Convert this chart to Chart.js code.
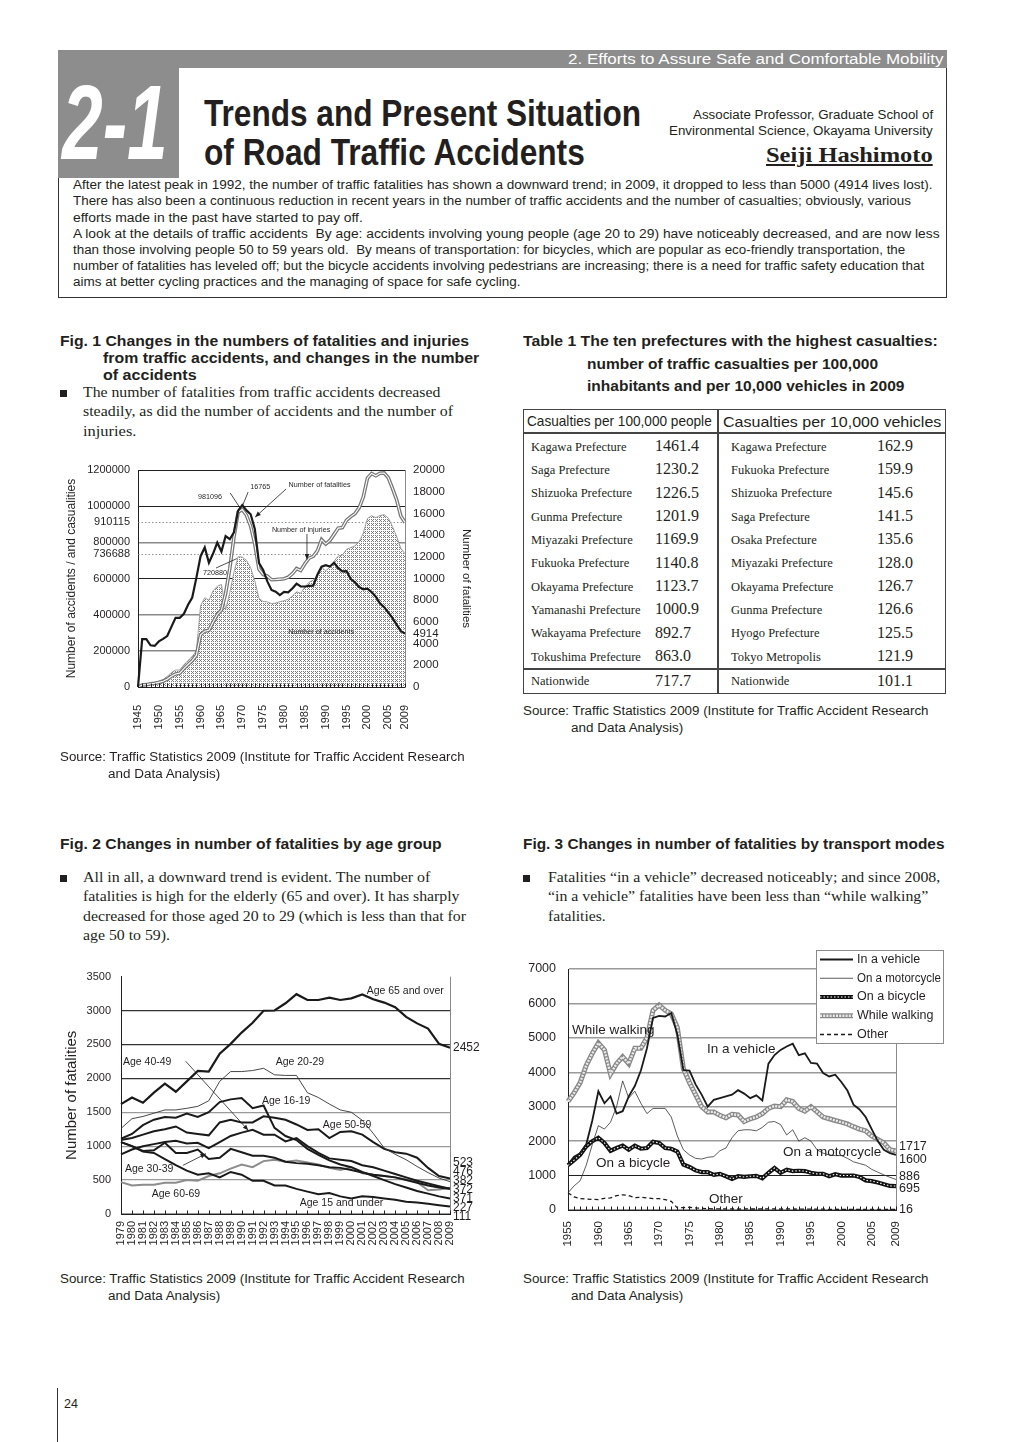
<!DOCTYPE html>
<html lang="en">
<head>
<meta charset="utf-8">
<title>Trends and Present Situation of Road Traffic Accidents</title>
<script src="https://cdn.jsdelivr.net/npm/chart.js@4.4.1/dist/chart.umd.min.js"></script>
<style>
  body { margin: 0; width: 1020px; height: 1442px; position: relative; background: #fff; color: #231f20;
         font-family: "Liberation Sans", Arial, sans-serif; overflow: hidden; }
  .t { position: absolute; white-space: pre; line-height: 1; transform-origin: 0 50%; }
  .caixa { position: absolute; box-sizing: border-box; }
  canvas { position: absolute; }
</style>
</head>
<body>

<div class="caixa" style="left:58px;top:50px;width:889px;height:248px;border:1px solid #333;"></div>
<div class="caixa" style="left:58px;top:50px;width:889px;height:18px;background:#8d8d8d;"></div>
<div class="caixa" style="left:58px;top:50px;width:121px;height:128px;background:#8d8d8d;"></div>

<div class="caixa" style="left:523px;top:409px;width:423px;height:285px;border:1.5px solid #444;"></div>
<div class="caixa" style="left:523px;top:432px;width:423px;height:2px;background:#444;"></div>
<div class="caixa" style="left:523px;top:668px;width:423px;height:2px;background:#444;"></div>
<div class="caixa" style="left:717px;top:409px;width:2px;height:285px;background:#444;"></div>

<div class="caixa" style="left:57px;top:1388px;width:1px;height:54px;background:#333;"></div>

<canvas id="graficoFig1" width="430" height="310" style="left:55px;top:455px;width:430px;height:310px"></canvas>
<canvas id="graficoFig2" width="425" height="300" style="left:60px;top:960px;width:425px;height:300px"></canvas>
<canvas id="graficoFig3" width="435" height="315" style="left:515px;top:945px;width:435px;height:315px"></canvas>

<script>
// ---------- Fig. 1 ----------
const anosFig1 = [
  '1945','1946','1947','1948','1949','1950','1951','1952','1953','1954',
  '1955','1956','1957','1958','1959','1960','1961','1962','1963','1964',
  '1965','1966','1967','1968','1969','1970','1971','1972','1973','1974',
  '1975','1976','1977','1978','1979','1980','1981','1982','1983','1984',
  '1985','1986','1987','1988','1989','1990','1991','1992','1993','1994',
  '1995','1996','1997','1998','1999','2000','2001','2002','2003','2004',
  '2005','2006','2007','2008','2009'
];
const rotulosFig1 = ['1945','1950','1955','1960','1965','1970','1975','1980','1985','1990','1995','2000','2005','2009'];
const mortosFig1 = [
  0, 4409, 4408, 3848, 3790, 4202, 4429, 4696, 5544, 6374,
  6379, 6751, 7575, 8248, 10079, 12055, 12865, 11445, 12301, 13318,
  12484, 13904, 13618, 14256, 16257, 16765, 16278, 15918, 14574, 11432,
  10792, 9734, 8945, 8783, 8466, 8760, 8719, 9073, 9520, 9262,
  9261, 9317, 9347, 10344, 11086, 11227, 11109, 11452, 10942, 10649,
  10679, 9942, 9640, 9211, 9006, 9066, 8747, 8326, 7702, 7358,
  6871, 6352, 5744, 5155, 4914
];
const feridosFig1 = [
  0, 11110, 13000, 17609, 20242, 25450, 31274, 43321, 59280, 72390,
  76501, 102072, 124530, 145432, 175951, 289156, 308697, 313813, 359089, 401117,
  425666, 517775, 655377, 828071, 967000, 981096, 949689, 889198, 789948, 651420,
  622467, 613957, 593211, 594116, 596282, 598719, 607346, 626192, 654822, 644321,
  681346, 712330, 722179, 752845, 814832, 790295, 810245, 844003, 878633, 881723,
  922677, 942203, 958925, 990676, 1050397, 1155697, 1181039, 1168029, 1181681, 1183617,
  1157113, 1098199, 1034652, 945504, 910115
];
const acidentesFig1 = [
  0, 12504, 16000, 21341, 25113, 33212, 41423, 58487, 80019, 93869,
  93981, 122691, 146833, 168799, 201292, 449917, 493693, 479825, 531966, 557183,
  567286, 425944, 521481, 635056, 720880, 718080, 700290, 659283, 586713, 490452,
  472938, 471041, 460649, 464037, 471573, 476677, 485578, 502261, 526362, 518642,
  552788, 579190, 590723, 614481, 661363, 643097, 662388, 695345, 724675, 729461,
  761794, 771085, 780401, 803882, 850363, 931950, 947253, 936950, 948281, 952709,
  934346, 887267, 832704, 766394, 736688
];
const ticksEsqFig1 = [0, 200000, 400000, 600000, 800000, 1000000, 1200000];
const extrasEsqFig1 = [736688, 910115];
const ticksDirFig1 = [0, 2000, 4000, 6000, 8000, 10000, 12000, 14000, 16000, 18000, 20000];
const extrasDirFig1 = [4914];
// [texto, indice do ano, valor no eixo da esquerda]
const notasTextoFig1 = [
  ['981096', 14.4, 1050000],
  ['16765', 26.9, 1106000],
  ['Number of fatalities', 36.1, 1117000],
  ['Number of injuries', 32.1, 868000],
  ['720880', 15.6, 630000],
  ['Number of accidents', 36, 304000]
];
// [x1, v1, x2, v2, ponta]
const notasSetaFig1 = [
  [22.1, 1073000, 24.6, 985000, false],
  [26.4, 1078000, 25.0, 1000000, false],
  [35.5, 1095000, 28.1, 940000, true],
  [40.5, 846000, 40.5, 705000, true],
  [18.7, 658000, 23.7, 710000, false]
];

// ---------- Fig. 2 ----------
const anosFig2 = [
  '1979','1980','1981','1982','1983','1984','1985','1986','1987','1988',
  '1989','1990','1991','1992','1993','1994','1995','1996','1997','1998',
  '1999','2000','2001','2002','2003','2004','2005','2006','2007','2008','2009'
];
const idade65 = [1620, 1717, 1640, 1790, 1923, 1803, 1956, 2110, 2100, 2364, 2508, 2675, 2820, 2997, 3000, 3107, 3241, 3155, 3155, 3189, 3155, 3180, 3237, 3165, 3117, 3050, 2906, 2810, 2733, 2508, 2452];
const idade2029 = [1261, 1405, 1438, 1486, 1534, 1534, 1558, 1587, 1669, 1956, 2100, 2100, 2115, 2148, 2052, 2043, 2043, 1788, 1717, 1621, 1534, 1500, 1381, 1189, 973, 880, 800, 700, 610, 530, 476];
const idade1619 = [1110, 1180, 1310, 1390, 1430, 1420, 1480, 1430, 1500, 1650, 1690, 1710, 1560, 1600, 1270, 1150, 1090, 960, 870, 790, 730, 690, 620, 560, 500, 440, 390, 340, 300, 260, 227];
const idade5059 = [1090, 1120, 1170, 1220, 1250, 1290, 1200, 1180, 1160, 1350, 1390, 1350, 1350, 1440, 1420, 1390, 1320, 1240, 1250, 1120, 1210, 1220, 1170, 1060, 960, 910, 890, 830, 680, 560, 523];
const idade4049 = [880, 950, 1000, 1030, 1060, 1080, 1040, 1050, 970, 1060, 1150, 1200, 1240, 1170, 1170, 1070, 1120, 1000, 900, 820, 800, 780, 720, 690, 640, 590, 540, 490, 450, 410, 372];
const idade3039 = [1060, 1000, 930, 940, 1050, 900, 900, 950, 810, 830, 960, 910, 860, 860, 830, 770, 750, 740, 720, 690, 680, 650, 610, 580, 560, 540, 500, 460, 420, 390, 371];
const idade15 = [1060, 1000, 920, 900, 810, 720, 640, 580, 600, 540, 620, 580, 490, 490, 420, 420, 370, 330, 290, 310, 260, 230, 260, 250, 230, 210, 180, 170, 150, 130, 111];
const idade6069 = [470, 420, 430, 430, 460, 460, 500, 490, 560, 600, 670, 730, 690, 780, 800, 770, 790, 760, 730, 680, 650, 690, 600, 580, 560, 540, 510, 470, 350, 360, 382];
const notasTextoFig2 = [
  ['Age 65 and over', 22.4, 3285],
  ['Age 40-49', 0.18, 2238],
  ['Age 20-29', 14.1, 2238],
  ['Age 16-19', 12.85, 1664],
  ['Age 50-59', 18.4, 1310],
  ['Age 30-39', 0.36, 660],
  ['Age 60-69', 2.8, 287],
  ['Age 15 and under', 16.3, 158]
];
const notasSetaFig2 = [
  [5.9, 2252, 11.6, 1234, true],
  [5.65, 717, 7.75, 889, true]
];

// ---------- Fig. 3 ----------
const anosFig3 = [
  '1955','1956','1957','1958','1959','1960','1961','1962','1963','1964',
  '1965','1966','1967','1968','1969','1970','1971','1972','1973','1974',
  '1975','1976','1977','1978','1979','1980','1981','1982','1983','1984',
  '1985','1986','1987','1988','1989','1990','1991','1992','1993','1994',
  '1995','1996','1997','1998','1999','2000','2001','2002','2003','2004',
  '2005','2006','2007','2008','2009'
];
const rotulosFig3 = ['1955','1960','1965','1970','1975','1980','1985','1990','1995','2000','2005','2009'];
const veiculo = [
  1330, 1550, 1650, 1900, 2600, 3450, 3100, 3300, 2800, 2870,
  3300, 3600, 4050, 4700, 5580, 5640, 5620, 5720, 5100, 4060,
  4050, 3650, 3350, 3000, 3200, 3250, 3300, 3350, 3480, 3380,
  3250, 3330, 3180, 4250, 4500, 4650, 4750, 4830, 4500, 4550,
  4270, 4250, 3980, 3880, 3930, 3720, 3470, 3060, 2920, 2700,
  2350, 2000, 1750, 1650, 1600
];
const moto = [
  500, 700, 850, 1300, 1900, 2450, 2350, 2550, 3000, 3750,
  3250, 3450, 3100, 2800, 2950, 2950, 2950, 2700, 2150, 1750,
  1600, 1500, 1480, 1530, 1550, 1720, 1800, 2100, 2300, 2330,
  2330, 2300, 2400, 2550, 2570, 2480, 2180, 2330, 2000, 2100,
  2000, 1750, 1650, 1600, 1580, 1580, 1500, 1400, 1350, 1300,
  1180, 1100, 1020, 950, 886
];
const bici = [
  1300, 1450, 1600, 1850, 2000, 2100, 1950, 1720, 1800, 1870,
  1750, 1870, 1780, 1800, 1980, 1950, 1800, 1780, 1700, 1320,
  1250, 1150, 1100, 1100, 1020, 1050, 980, 900, 980, 960,
  980, 990, 920, 1080, 1220, 1080, 1170, 1130, 1140, 1130,
  1080, 1050, 1050, 980, 1040, 1000, 1000, 1000, 960, 860,
  840, 800, 750, 700, 695
];
const caminhando = [
  3150, 3400, 3700, 4200, 4550, 4850, 4650, 3950, 4250, 4450,
  4250, 4700, 4700, 5000, 5800, 5950, 5800, 5700, 5300, 4100,
  3700, 3350, 3000, 2850, 2850, 2750, 2680, 2780, 2760, 2570,
  2650, 2700, 2800, 2950, 3020, 3000, 3200, 3150, 2950, 2870,
  3000, 2850, 2700, 2650, 2600, 2550, 2500, 2420, 2350, 2300,
  2150, 2050, 1950, 1750, 1717
];
const outros = [
  500, 380, 330, 320, 310, 300, 340, 350, 420, 440,
  420, 360, 370, 350, 330, 330, 300, 250, 60, 70,
  80, 60, 50, 40, 35, 30, 32, 30, 28, 30,
  30, 28, 30, 32, 30, 28, 30, 30, 25, 25,
  25, 24, 25, 20, 22, 20, 20, 21, 20, 19,
  20, 19, 18, 17, 16
];
const notasTextoFig3 = [
  ['While walking', 0.66, 5230],
  ['In a vehicle', 22.9, 4677],
  ['On a bicycle', 4.6, 1365],
  ['On a motorcycle', 35.4, 1685],
  ['Other', 23.2, 320]
];

// ---------- Table 1 ----------
const prefPorHabitantes = ['Kagawa Prefecture', 'Saga Prefecture', 'Shizuoka Prefecture', 'Gunma Prefecture', 'Miyazaki Prefecture',
  'Fukuoka Prefecture', 'Okayama Prefecture', 'Yamanashi Prefecture', 'Wakayama Prefecture', 'Tokushima Prefecture'];
const valPorHabitantes = ['1461.4', '1230.2', '1226.5', '1201.9', '1169.9', '1140.8', '1123.7', '1000.9', '892.7', '863.0'];
const prefPorVeiculos = ['Kagawa Prefecture', 'Fukuoka Prefecture', 'Shizuoka Prefecture', 'Saga Prefecture', 'Osaka Prefecture',
  'Miyazaki Prefecture', 'Okayama Prefecture', 'Gunma Prefecture', 'Hyogo Prefecture', 'Tokyo Metropolis'];
const valPorVeiculos = ['162.9', '159.9', '145.6', '141.5', '135.6', '128.0', '126.7', '126.6', '125.5', '121.9'];
const nacional = ['717.7', '101.1'];

// ---------- textos da página ----------
const SERIF = '"Liberation Serif", "Times New Roman", serif';
const NARROW = '"Liberation Sans Narrow", "Liberation Sans", Arial, sans-serif';

function texto(t, x, y, tam, op = {}) {
  const el = document.createElement('div');
  el.className = 't';
  el.textContent = t;
  el.style.fontSize = tam + 'px';
  if (op.serif) el.style.fontFamily = SERIF;
  if (op.narrow) el.style.fontFamily = NARROW;
  if (op.bold) el.style.fontWeight = 'bold';
  if (op.italic) el.style.fontStyle = 'italic';
  if (op.cor) el.style.color = op.cor;
  if (op.sub) el.style.textDecoration = 'underline';
  el.style.top = (y - tam / 2) + 'px';
  document.body.appendChild(el);
  const largura = op.w || el.offsetWidth;
  el.style.left = (op.dir ? x - largura : x) + 'px';
  if (op.w) el.style.transform = `scaleX(${op.w / el.offsetWidth})`;
  return el;
}

function quadrado(x, y) {
  const q = document.createElement('div');
  q.className = 'caixa';
  q.style.cssText += `left:${x}px;top:${y - 3.5}px;width:7px;height:7px;background:#231f20;`;
  document.body.appendChild(q);
}

texto('2. Efforts to Assure Safe and Comfortable Mobility', 943, 59, 14, { narrow: true, cor: '#fff', w: 375, dir: true });
texto('2-1', 62, 122, 105, { bold: true, italic: true, cor: '#fff', w: 106 });
texto('Trends and Present Situation', 204, 114, 36, { bold: true, narrow: true, w: 437 });
texto('of Road Traffic Accidents', 204, 153, 36, { bold: true, narrow: true, w: 381 });
texto('Associate Professor, Graduate School of', 933, 115, 12.5, { narrow: true, w: 240, dir: true });
texto('Environmental Science, Okayama University', 933, 131, 12.5, { narrow: true, w: 264, dir: true });
texto('Seiji Hashimoto', 933, 155, 22, { serif: true, bold: true, sub: true, w: 167, dir: true });

const paragrafo = [
  ['After the latest peak in 1992, the number of traffic fatalities has shown a downward trend; in 2009, it dropped to less than 5000 (4914 lives lost).', 860],
  ['There has also been a continuous reduction in recent years in the number of traffic accidents and the number of casualties; obviously, various', 838],
  ['efforts made in the past have started to pay off.', 290],
  ['A look at the details of traffic accidents  By age: accidents involving young people (age 20 to 29) have noticeably decreased, and are now less', 867],
  ['than those involving people 50 to 59 years old.  By means of transportation: for bicycles, which are popular as eco-friendly transportation, the', 832],
  ['number of fatalities has leveled off; but the bicycle accidents involving pedestrians are increasing; there is a need for traffic safety education that', 851],
  ['aims at better cycling practices and the managing of space for safe cycling.', 448]
];
const linhasY = [185, 201, 218, 234, 250, 266, 282];
paragrafo.forEach((p, i) => texto(p[0], 73, linhasY[i], 12.5, { narrow: true, w: p[1] }));

texto('Fig. 1 Changes in the numbers of fatalities and injuries', 60, 341, 14, { bold: true, narrow: true, w: 409 });
texto('from traffic accidents, and changes in the number', 103, 358, 14, { bold: true, narrow: true, w: 376 });
texto('of accidents', 103, 375, 14, { bold: true, narrow: true, w: 94 });
quadrado(60, 393);
texto('The number of fatalities from traffic accidents decreased', 83, 393, 14, { serif: true, w: 357 });
texto('steadily, as did the number of accidents and the number of', 83, 412, 14, { serif: true, w: 370 });
texto('injuries.', 83, 432, 14, { serif: true, w: 54 });

texto('Table 1 The ten prefectures with the highest casualties:', 523, 341, 14, { bold: true, narrow: true, w: 415 });
texto('number of traffic casualties per 100,000', 587, 364, 14, { bold: true, narrow: true, w: 291 });
texto('inhabitants and per 10,000 vehicles in 2009', 587, 386, 14, { bold: true, narrow: true, w: 317 });

texto('Casualties per 100,000 people', 527, 421, 14.5, { narrow: true, w: 185 });
texto('Casualties per 10,000 vehicles', 723, 421, 15, { narrow: true, w: 218 });
prefPorHabitantes.forEach((p, i) => {
  const y = 447 + i * 23.33;
  texto(p, 531, y, 12.5, { serif: true });
  texto(valPorHabitantes[i], 655, y - 1, 16, { serif: true });
  texto(prefPorVeiculos[i], 731, y, 12.5, { serif: true });
  texto(valPorVeiculos[i], 877, y - 1, 16, { serif: true });
});
texto('Nationwide', 531, 681, 12.5, { serif: true });
texto(nacional[0], 655, 681, 16, { serif: true });
texto('Nationwide', 731, 681, 12.5, { serif: true });
texto(nacional[1], 877, 681, 16, { serif: true });

const fonte = 'Source: Traffic Statistics 2009 (Institute for Traffic Accident Research';
texto(fonte, 523, 711, 12.5, { narrow: true, w: 406 });
texto('and Data Analysis)', 571, 728, 12.5, { narrow: true, w: 112 });
texto(fonte, 60, 757, 12.5, { narrow: true, w: 405 });
texto('and Data Analysis)', 108, 774, 12.5, { narrow: true, w: 112 });

texto('Fig. 2 Changes in number of fatalities by age group', 60, 844, 14, { bold: true, narrow: true, w: 382 });
texto('Fig. 3 Changes in number of fatalities by transport modes', 523, 844, 14, { bold: true, narrow: true, w: 422 });
quadrado(60, 878);
texto('All in all, a downward trend is evident. The number of', 83, 878, 14, { serif: true, w: 347 });
texto('fatalities is high for the elderly (65 and over). It has sharply', 83, 897, 14, { serif: true, w: 377 });
texto('decreased for those aged 20 to 29 (which is less than that for', 83, 917, 14, { serif: true, w: 383 });
texto('age 50 to 59).', 83, 936, 14, { serif: true, w: 87 });
quadrado(523, 878);
texto('Fatalities \u201cin a vehicle\u201d decreased noticeably; and since 2008,', 548, 878, 14, { serif: true, w: 392 });
texto('\u201cin a vehicle\u201d fatalities have been less than \u201cwhile walking\u201d', 548, 897, 14, { serif: true, w: 380 });
texto('fatalities.', 548, 917, 14, { serif: true, w: 58 });

texto(fonte, 60, 1279, 12.5, { narrow: true, w: 405 });
texto('and Data Analysis)', 108, 1296, 12.5, { narrow: true, w: 112 });
texto(fonte, 523, 1279, 12.5, { narrow: true, w: 406 });
texto('and Data Analysis)', 571, 1296, 12.5, { narrow: true, w: 112 });
texto('24', 64, 1404, 12.5, {});

// ---------- gráficos ----------
Chart.defaults.font.family = '"Liberation Sans", Arial, sans-serif';
Chart.defaults.color = '#231f20';
Chart.defaults.animation = false;
Chart.defaults.plugins.legend.display = false;
Chart.defaults.plugins.tooltip.enabled = false;
Chart.defaults.elements.point.radius = 0;
Chart.defaults.elements.line.tension = 0;

function pontilhado() {
  const c = document.createElement('canvas');
  c.width = 4; c.height = 4;
  const g = c.getContext('2d');
  g.fillStyle = '#fff';
  g.fillRect(0, 0, 4, 4);
  g.fillStyle = '#7a7a7a';
  [[0, 0], [2, 0], [1, 1], [0, 2], [2, 2]].forEach(([a, b]) => g.fillRect(a, b, 1, 1));
  return g.createPattern(c, 'repeat');
}

function seta(ctx, x1, y1, x2, y2, ponta) {
  ctx.beginPath();
  ctx.moveTo(x1, y1);
  ctx.lineTo(x2, y2);
  ctx.stroke();
  if (ponta) {
    const ang = Math.atan2(y2 - y1, x2 - x1), t = 6;
    ctx.beginPath();
    ctx.moveTo(x2, y2);
    ctx.lineTo(x2 - t * Math.cos(ang - 0.4), y2 - t * Math.sin(ang - 0.4));
    ctx.lineTo(x2 - t * Math.cos(ang + 0.4), y2 - t * Math.sin(ang + 0.4));
    ctx.closePath();
    ctx.fill();
  }
}

function notas(id, textos, setas, fonteCanvas) {
  return {
    id,
    afterDatasetsDraw(chart) {
      const { ctx, scales: { x, y } } = chart;
      ctx.save();
      ctx.font = fonteCanvas;
      ctx.fillStyle = '#231f20';
      ctx.strokeStyle = '#231f20';
      ctx.lineWidth = 0.8;
      ctx.textBaseline = 'middle';
      setas.forEach(s => seta(ctx, x.getPixelForValue(s[0]), y.getPixelForValue(s[1]),
        x.getPixelForValue(s[2]), y.getPixelForValue(s[3]), s[4]));
      textos.forEach(t => ctx.fillText(t[0], x.getPixelForValue(t[1]), y.getPixelForValue(t[2])));
      ctx.restore();
    }
  };
}

// pequenas marcas para dentro em cada ano
const marcasX = {
  id: 'marcasX',
  afterDraw(chart) {
    const { ctx, chartArea: a, scales: { x } } = chart;
    ctx.save();
    ctx.strokeStyle = '#231f20';
    ctx.lineWidth = 1;
    x.ticks.forEach((t, i) => {
      const px = Math.round(x.getPixelForTick(i)) + 0.5;
      ctx.beginPath();
      ctx.moveTo(px, a.bottom);
      ctx.lineTo(px, a.bottom - 3.5);
      ctx.stroke();
    });
    ctx.restore();
  }
};

const bordaDireita = {
  id: 'bordaDireita',
  afterDraw(chart) {
    const { ctx, chartArea: a } = chart;
    ctx.save();
    ctx.strokeStyle = '#8a8a8a';
    ctx.lineWidth = 1;
    ctx.beginPath();
    ctx.moveTo(Math.round(a.right) + 0.5, a.top);
    ctx.lineTo(Math.round(a.right) + 0.5, a.bottom);
    ctx.stroke();
    ctx.restore();
  }
};

// afasta rótulos que se sobrepõem, mantendo cada grupo centrado
function espalhar(ys, gap) {
  const itens = ys.map((y, i) => ({ y, i })).sort((a, b) => a.y - b.y);
  const grupos = itens.map(it => ({ membros: [it], centro: it.y }));
  let mudou = true;
  while (mudou) {
    mudou = false;
    for (let k = 0; k < grupos.length - 1; k++) {
      const a = grupos[k], b = grupos[k + 1];
      const fimA = a.centro + (a.membros.length - 1) * gap / 2;
      const iniB = b.centro - (b.membros.length - 1) * gap / 2;
      if (iniB - fimA < gap) {
        const membros = a.membros.concat(b.membros);
        const centro = membros.reduce((s, m) => s + m.y, 0) / membros.length;
        grupos.splice(k, 2, { membros, centro });
        mudou = true;
        break;
      }
    }
  }
  const out = [];
  grupos.forEach(g => g.membros.forEach((m, j) => {
    out[m.i] = g.centro + (j - (g.membros.length - 1) / 2) * gap;
  }));
  return out;
}

function rotulosFinais(valores, gap, fonteCanvas) {
  return {
    id: 'rotulosFinais',
    afterDraw(chart) {
      const { ctx, chartArea: a, scales: { y } } = chart;
      const ys = espalhar(valores.map(v => y.getPixelForValue(v)), gap);
      ctx.save();
      ctx.font = fonteCanvas;
      ctx.fillStyle = '#231f20';
      ctx.textBaseline = 'middle';
      valores.forEach((v, k) => ctx.fillText(String(v), a.right + 3, ys[k]));
      ctx.restore();
    }
  };
}

const ultimo = s => s[s.length - 1];

// Fig. 1
const linhasPontilhadas = {
  id: 'linhasPontilhadas',
  beforeDatasetsDraw(chart) {
    const { ctx, chartArea: a, scales: { y } } = chart;
    ctx.save();
    ctx.strokeStyle = '#777';
    ctx.lineWidth = 0.8;
    ctx.setLineDash([1.5, 2]);
    extrasEsqFig1.forEach(v => {
      const py = Math.round(y.getPixelForValue(v)) + 0.5;
      ctx.beginPath();
      ctx.moveTo(a.left, py);
      ctx.lineTo(a.right, py);
      ctx.stroke();
    });
    ctx.restore();
  }
};

const graficoFig1 = new Chart(document.getElementById('graficoFig1'), {
  type: 'line',
  data: {
    labels: anosFig1,
    datasets: [
      { label: 'Number of fatalities', data: mortosFig1, yAxisID: 'y1', borderColor: '#1a1a1a', borderWidth: 2.2 },
      { label: 'Number of injuries', data: feridosFig1, borderColor: '#ffffff', borderWidth: 1.1 },
      { label: 'Number of injuries', data: feridosFig1, borderColor: '#767676', borderWidth: 3.6 },
      { label: 'Number of accidents', data: acidentesFig1, borderColor: '#8a8a8a', borderWidth: 0.8,
        fill: 'origin', backgroundColor: pontilhado() }
    ]
  },
  options: {
    responsive: false,
    devicePixelRatio: 1,
    layout: { padding: { top: 15, left: 0, right: 0, bottom: 0 } },
    scales: {
      x: {
        grid: { drawOnChartArea: false, drawTicks: false },
        border: { color: '#231f20' },
        ticks: {
          autoSkip: false, maxRotation: 90, minRotation: 90, padding: 18, font: { size: 11 },
          callback: (v, i) => rotulosFig1.includes(anosFig1[i]) ? anosFig1[i] : ''
        },
        afterFit: s => { s.height = 78; }
      },
      y: {
        min: 0, max: 1200000,
        afterBuildTicks: s => { s.ticks = ticksEsqFig1.concat(extrasEsqFig1).sort((a, b) => a - b).map(v => ({ value: v })); },
        grid: {
          drawTicks: false,
          color: c => extrasEsqFig1.includes(c.tick.value) ? 'rgba(0,0,0,0)'
            : ([600000, 1000000, 1200000].includes(c.tick.value) ? '#231f20' : '#8a8a8a'),
          lineWidth: c => [200000, 400000, 800000].includes(c.tick.value) ? 1.6 : 1
        },
        border: { color: '#231f20' },
        ticks: { autoSkip: false, padding: 8, font: { size: 11 }, callback: v => String(v) },
        title: { display: true, text: 'Number of accidents / and casualities', font: { size: 12 }, padding: { top: 9, bottom: 0 } },
        afterFit: s => { s.width = 83; }
      },
      y1: {
        position: 'right',
        min: 0, max: 20000,
        afterBuildTicks: s => { s.ticks = ticksDirFig1.concat(extrasDirFig1).sort((a, b) => a - b).map(v => ({ value: v })); },
        grid: { drawOnChartArea: false, drawTicks: false },
        border: { color: '#8a8a8a' },
        ticks: { autoSkip: false, padding: 8, font: { size: 11.5 }, callback: v => String(v) },
        title: { display: true, text: 'Number of fatalities', font: { size: 11.5 }, padding: { top: 12, bottom: 0 } },
        afterFit: s => { s.width = 80; }
      }
    }
  },
  plugins: [linhasPontilhadas, notas('notasFig1', notasTextoFig1, notasSetaFig1, '7.2px "Liberation Sans", Arial, sans-serif'), marcasX]
});

// Fig. 2
const graficoFig2 = new Chart(document.getElementById('graficoFig2'), {
  type: 'line',
  data: {
    labels: anosFig2,
    datasets: [
      { label: 'Age 65 and over', data: idade65, borderColor: '#1a1a1a', borderWidth: 2.2 },
      { label: 'Age 20-29', data: idade2029, borderColor: '#333', borderWidth: 0.9 },
      { label: 'Age 16-19', data: idade1619, borderColor: '#1a1a1a', borderWidth: 2 },
      { label: 'Age 50-59', data: idade5059, borderColor: '#1a1a1a', borderWidth: 2 },
      { label: 'Age 40-49', data: idade4049, borderColor: '#1a1a1a', borderWidth: 2 },
      { label: 'Age 30-39', data: idade3039, borderColor: '#1a1a1a', borderWidth: 2 },
      { label: 'Age 15 and under', data: idade15, borderColor: '#1a1a1a', borderWidth: 2 },
      { label: 'Age 60-69', data: idade6069, borderColor: '#8c8c8c', borderWidth: 2 }
    ]
  },
  options: {
    responsive: false,
    devicePixelRatio: 1,
    layout: { padding: { top: 10, right: 35, left: 0, bottom: 0 } },
    scales: {
      x: {
        grid: { drawOnChartArea: false, drawTicks: false },
        border: { color: '#231f20' },
        ticks: { autoSkip: false, maxRotation: 90, minRotation: 90, padding: 7, font: { size: 11 } },
        afterFit: s => { s.height = 46; }
      },
      y: {
        min: 0, max: 3500,
        ticks: { stepSize: 500, padding: 10, font: { size: 11 }, callback: v => String(v) },
        grid: {
          drawTicks: false,
          color: c => c.tick.value === 3500 ? 'rgba(0,0,0,0)' : (c.tick.value >= 2000 ? '#333' : '#9a9a9a'),
          lineWidth: 1.2
        },
        border: { color: '#231f20' },
        title: { display: true, text: 'Number of fatalities', font: { size: 15 }, padding: { top: 3, bottom: 0 } },
        afterFit: s => { s.width = 61; }
      }
    }
  },
  plugins: [
    bordaDireita, marcasX,
    notas('notasFig2', notasTextoFig2, notasSetaFig2, '10.5px "Liberation Sans", Arial, sans-serif'),
    rotulosFinais([idade65, idade5059, idade2029, idade6069, idade4049, idade3039, idade1619, idade15].map(ultimo), 9,
      '12px "Liberation Sans", Arial, sans-serif')
  ]
});

// Fig. 3
const itensLegendaFig3 = [
  { texto: 'In a vehicle', ds: [0] },
  { texto: 'On a motorcycle', ds: [1] },
  { texto: 'On a bicycle', ds: [3, 2] },
  { texto: 'While walking', ds: [5, 4] },
  { texto: 'Other', ds: [6] }
];

const legendaFig3 = {
  id: 'legendaFig3',
  afterDraw(chart) {
    const ctx = chart.ctx;
    const x0 = 301, y0 = 5, w = 127, h = 93;
    ctx.save();
    ctx.fillStyle = '#fff';
    ctx.fillRect(x0, y0, w, h);
    ctx.strokeStyle = '#8a8a8a';
    ctx.lineWidth = 1;
    ctx.strokeRect(x0 + 0.5, y0 + 0.5, w, h);
    itensLegendaFig3.forEach((it, k) => {
      const yy = y0 + 9.5 + k * 18.75;
      it.ds.forEach(i => {
        const d = chart.data.datasets[i];
        ctx.strokeStyle = d.borderColor;
        ctx.lineWidth = d.borderWidth;
        ctx.setLineDash(d.borderDash || []);
        ctx.beginPath();
        ctx.moveTo(x0 + 4, yy);
        ctx.lineTo(x0 + 37, yy);
        ctx.stroke();
      });
      ctx.setLineDash([]);
      ctx.fillStyle = '#231f20';
      ctx.font = '12.5px "Liberation Sans", Arial, sans-serif';
      ctx.textBaseline = 'middle';
      ctx.fillText(it.texto, x0 + 41, yy, 84);
    });
    ctx.restore();
  }
};

const graficoFig3 = new Chart(document.getElementById('graficoFig3'), {
  type: 'line',
  data: {
    labels: anosFig3,
    datasets: [
      { label: 'In a vehicle', data: veiculo, borderColor: '#1a1a1a', borderWidth: 1.8 },
      { label: 'On a motorcycle', data: moto, borderColor: '#333', borderWidth: 0.8 },
      { label: 'On a bicycle', data: bici, borderColor: '#ffffff', borderWidth: 1.1, borderDash: [1.5, 2] },
      { label: 'On a bicycle', data: bici, borderColor: '#111', borderWidth: 4.2 },
      { label: 'While walking', data: caminhando, borderColor: '#ececec', borderWidth: 2.4, borderDash: [2, 1.2] },
      { label: 'While walking', data: caminhando, borderColor: '#888888', borderWidth: 5 },
      { label: 'Other', data: outros, borderColor: '#1a1a1a', borderWidth: 1.3, borderDash: [4, 3] }
    ]
  },
  options: {
    responsive: false,
    devicePixelRatio: 1,
    layout: { padding: { top: 24, right: 54, left: 0, bottom: 0 } },
    scales: {
      x: {
        grid: { drawOnChartArea: false, drawTicks: false },
        border: { color: '#231f20' },
        ticks: {
          autoSkip: false, maxRotation: 90, minRotation: 90, padding: 11, font: { size: 11.5 },
          callback: (v, i) => rotulosFig3.includes(anosFig3[i]) ? anosFig3[i] : ''
        },
        afterFit: s => { s.height = 50; }
      },
      y: {
        min: 0, max: 7000,
        ticks: { stepSize: 1000, padding: 12, font: { size: 12.5 }, callback: v => String(v) },
        grid: {
          drawTicks: false,
          color: c => c.tick.value === 1000 ? '#231f20' : '#9a9a9a',
          lineWidth: c => c.tick.value === 1000 ? 1 : 1.5
        },
        border: { color: '#231f20' },
        afterFit: s => { s.width = 53; }
      }
    }
  },
  plugins: [
    bordaDireita, marcasX,
    notas('notasFig3', notasTextoFig3, [], '13.5px "Liberation Sans", Arial, sans-serif'),
    rotulosFinais([caminhando, veiculo, moto, bici, outros].map(ultimo), 12.5, '12.5px "Liberation Sans", Arial, sans-serif'),
    legendaFig3
  ]
});
</script>
</body>
</html>
